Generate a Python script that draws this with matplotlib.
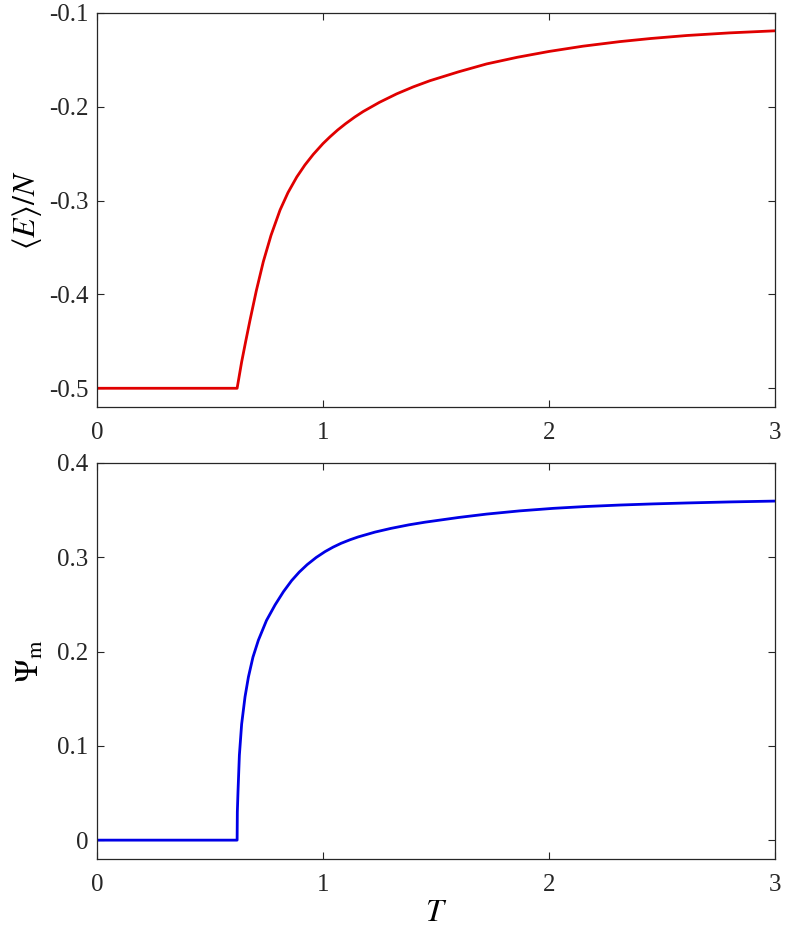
#!/usr/bin/env python3

import matplotlib
matplotlib.use("Agg")
import matplotlib.pyplot as plt

# mean energy per spin vs temperature
T_energy = [0.0, 0.620, 0.630, 0.640, 0.658, 0.677, 0.705, 0.736, 0.770,
            0.810, 0.845, 0.884, 0.920, 0.957, 1.000, 1.031, 1.065,
            1.100, 1.140, 1.178, 1.250, 1.326, 1.400, 1.473, 1.600,
            1.724, 1.860, 2.000, 2.150, 2.314, 2.450, 2.610, 2.800, 3.000]
E_per_N = [-0.500, -0.500, -0.486, -0.472, -0.450, -0.4275, -0.396,
           -0.365, -0.337, -0.310, -0.2915, -0.2748, -0.2620, -0.2507,
           -0.2392, -0.2320, -0.2247, -0.2180, -0.2110, -0.2050, -0.1952,
           -0.1862, -0.1787, -0.1722, -0.1627, -0.1543, -0.1472, -0.1410,
           -0.1354, -0.1305, -0.1272, -0.1240, -0.1212, -0.1190]

# order parameter vs temperature
T_psi = [0.0, 0.620, 0.621, 0.624, 0.630, 0.640, 0.655, 0.670, 0.690,
         0.714, 0.750, 0.788, 0.825, 0.861, 0.895, 0.930, 0.970, 1.009,
         1.045, 1.080, 1.120, 1.156, 1.230, 1.300, 1.380, 1.451, 1.600,
         1.724, 1.870, 2.020, 2.160, 2.314, 2.460, 2.610, 2.800, 3.000]
Psi_m = [0.000, 0.000, 0.030, 0.052, 0.090, 0.123, 0.152, 0.173, 0.194,
         0.212, 0.233, 0.2495, 0.2635, 0.2752, 0.2843, 0.2922, 0.2998,
         0.3060, 0.3108, 0.3148, 0.3186, 0.3216, 0.3267, 0.3306, 0.3344,
         0.3372, 0.3422, 0.3458, 0.3492, 0.3519, 0.3538, 0.3554, 0.3566,
         0.3576, 0.3587, 0.3596]

x_ticks = [0, 1, 2, 3]
E_ticks = [-0.5, -0.4, -0.3, -0.2, -0.1]
E_ticklabels = ["-0.5", "-0.4", "-0.3", "-0.2", "-0.1"]
Psi_ticks = [0.0, 0.1, 0.2, 0.3, 0.4]
Psi_ticklabels = ["0", "0.1", "0.2", "0.3", "0.4"]

plt.rcParams["font.family"] = ["Liberation Serif", "DejaVu Serif"]
plt.rcParams["mathtext.fontset"] = "stix"

axis_color = "#262626"


def style_axes(ax):
    for spine in ax.spines.values():
        spine.set_color(axis_color)
        spine.set_linewidth(0.9)
    ax.tick_params(
        direction="in",
        top=True,
        right=True,
        length=5,
        width=0.8,
        colors=axis_color,
        labelsize=18,
    )
    ax.tick_params(axis="x", pad=11)
    ax.tick_params(axis="y", pad=6)


fig = plt.figure(figsize=(7.86, 9.34), dpi=100)

ax1 = fig.add_axes([0.1234, 0.5642, 0.8626, 0.4219])
ax1.plot(T_energy, E_per_N, color="#e00000", linewidth=2.0)
ax1.set_xlim(0, 3)
ax1.set_ylim(-0.52, -0.1)
ax1.set_xticks(x_ticks)
ax1.set_yticks(E_ticks)
ax1.set_yticklabels(E_ticklabels)
ax1.set_ylabel(r"$\langle E\rangle/N$", fontsize=23, labelpad=4)
style_axes(ax1)

ax2 = fig.add_axes([0.1234, 0.0803, 0.8626, 0.4240])
ax2.plot(T_psi, Psi_m, color="#0000e6", linewidth=2.0)
ax2.set_xlim(0, 3)
ax2.set_ylim(-0.02, 0.4)
ax2.set_xticks(x_ticks)
ax2.set_yticks(Psi_ticks)
ax2.set_yticklabels(Psi_ticklabels)
ax2.set_ylabel(r"$\Psi_{\rm m}$", fontsize=23, labelpad=8)
ax2.set_xlabel(r"$T$", fontsize=23, labelpad=2)
style_axes(ax2)

fig.savefig("out.png", dpi=100)
plt.close(fig)
